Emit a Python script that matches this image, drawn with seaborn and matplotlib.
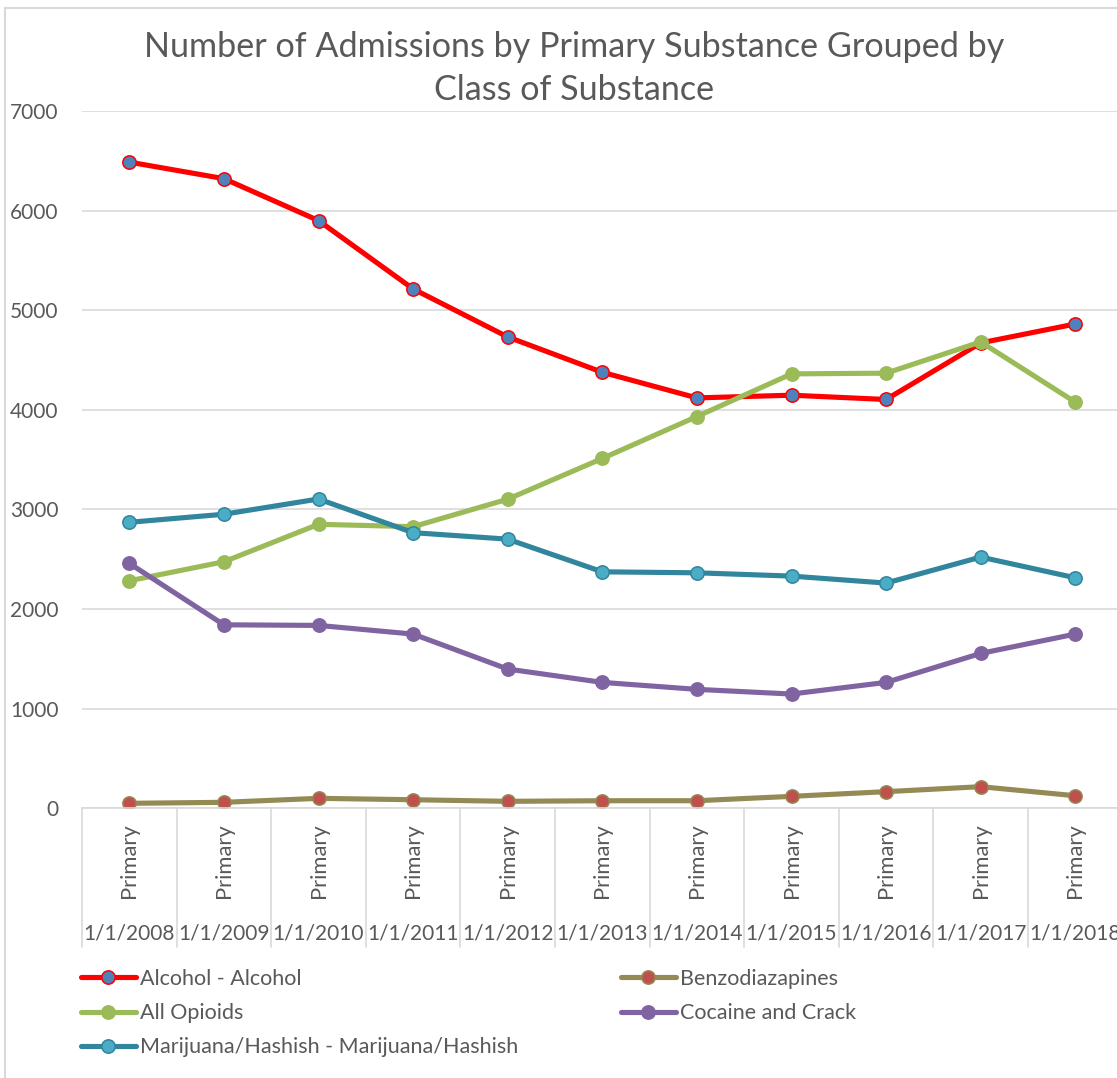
import matplotlib
matplotlib.use("Agg")
import matplotlib.pyplot as plt
from matplotlib.lines import Line2D
import seaborn as sns
import pandas as pd

# Admissions per year for each primary substance class
years = [2008, 2009, 2010, 2011, 2012, 2013, 2014, 2015, 2016, 2017, 2018]
alcohol = [6487, 6321, 5900, 5214, 4732, 4377, 4120, 4147, 4104, 4672, 4862]
benzodiazapines = [50, 60, 100, 86, 70, 76, 76, 120, 167, 217, 126]
all_opioids = [2284, 2475, 2851, 2827, 3103, 3512, 3933, 4361, 4368, 4682, 4077]
cocaine_crack = [2459, 1842, 1836, 1749, 1398, 1264, 1194, 1147, 1264, 1555, 1749]
marijuana = [2871, 2952, 3105, 2767, 2702, 2374, 2364, 2331, 2261, 2522, 2314]

series_names = ["Alcohol - Alcohol", "Benzodiazapines", "All Opioids",
                "Cocaine and Crack", "Marijuana/Hashish - Marijuana/Hashish"]
series_values = [alcohol, benzodiazapines, all_opioids, cocaine_crack, marijuana]
sub_label = "Primary"
date_labels = [f"1/1/{y}" for y in years]
y_ticks = [0, 1000, 2000, 3000, 4000, 5000, 6000, 7000]
title = "Number of Admissions by Primary Substance Grouped by\nClass of Substance"

# line colour, marker face, marker edge
styles = {
    "Alcohol - Alcohol": ("#FF0000", "#4F81BD", "#FF0000"),
    "Benzodiazapines": ("#948A54", "#C0504D", "#948A54"),
    "All Opioids": ("#9BBB59", "#9BBB59", "#9BBB59"),
    "Cocaine and Crack": ("#8064A2", "#8064A2", "#8064A2"),
    "Marijuana/Hashish - Marijuana/Hashish": ("#31859C", "#4BACC6", "#31859C"),
}

df = pd.DataFrame({"year": years})
for name, vals in zip(series_names, series_values):
    df[name] = vals
long = df.melt(id_vars="year", var_name="substance", value_name="admissions")

sns.set_theme(style="white")
plt.rcParams["font.family"] = ["Lato", "DejaVu Sans"]
text_color = "#595959"
grid_color = "#D9D9D9"

W, H = 1117, 1078
fig = plt.figure(figsize=(W / 100, H / 100), dpi=100)
fig.patch.set_facecolor("white")

ax_left, ax_right = 82, 1122.6
ax_top, ax_bottom = 111.0, 808.3
ax = fig.add_axes([ax_left / W, (H - ax_bottom) / H,
                   (ax_right - ax_left) / W, (ax_bottom - ax_top) / H])

for name in series_names:
    lc, fc, ec = styles[name]
    sub = long[long["substance"] == name]
    sns.lineplot(data=sub, x="year", y="admissions", ax=ax, color=lc,
                 linewidth=3.7, marker="o", markersize=9.6,
                 markerfacecolor=fc, markeredgecolor=ec, markeredgewidth=1.1,
                 label=name, legend=False)

ax.set_xlim(years[0] - 0.5, years[-1] + 0.5)
ax.set_ylim(y_ticks[0], y_ticks[-1])
ax.set_yticks(y_ticks)
ax.set_yticklabels([str(v) for v in y_ticks], fontsize=15, color=text_color)
ax.tick_params(axis="y", length=0, pad=17)
ax.yaxis.grid(True, color=grid_color, linewidth=1.2)
ax.set_axisbelow(True)
for s in ["top", "right", "left"]:
    ax.spines[s].set_visible(False)
ax.spines["bottom"].set_color(grid_color)
ax.spines["bottom"].set_linewidth(1.2)
ax.set_xlabel("")
ax.set_ylabel("")

# two-level category axis: rotated sub label above the date
ax.set_xticks(years)
ax.set_xticklabels([sub_label] * len(years), rotation=90, fontsize=15.8,
                   color=text_color)
ax.tick_params(axis="x", length=0, pad=10.5)
span = ax_bottom - ax_top
trans = ax.get_xaxis_transform()
for yr, lab in zip(years, date_labels):
    ax.text(yr, -(933 - ax_bottom) / span, lab, transform=trans, ha="center",
            va="center", fontsize=15, color=text_color)
for k in range(len(years) + 1):
    xb = years[0] - 0.5 + k
    ax.add_line(Line2D([xb, xb], [0, -(947 - ax_bottom) / span], transform=trans,
                       color=grid_color, linewidth=1.2, clip_on=False))

fig.text(574 / W, 1 - 68.5 / H, title, ha="center", va="center", fontsize=24.6,
         color=text_color, fontweight="normal", linespacing=1.45)

# chart frame
fig.add_artist(Line2D([5 / W, 5 / W], [0, 1 - 8 / H], transform=fig.transFigure,
                      color=grid_color, linewidth=1.5))
fig.add_artist(Line2D([5 / W, 1], [1 - 8 / H, 1 - 8 / H], transform=fig.transFigure,
                      color=grid_color, linewidth=1.5))

handles, labels = ax.get_legend_handles_labels()
hmap = dict(zip(labels, handles))
col1 = ["Alcohol - Alcohol", "All Opioids", "Marijuana/Hashish - Marijuana/Hashish"]
col2 = ["Benzodiazapines", "Cocaine and Crack"]
leg_kw = dict(loc="upper left", frameon=False, fontsize=15.5, borderpad=0,
              borderaxespad=0, handlelength=2.55, handletextpad=0.2,
              labelspacing=0.66, numpoints=1, labelcolor=text_color)
leg1 = fig.legend([hmap[n] for n in col1], col1,
                  bbox_to_anchor=(81 / W, 1 - 969 / H), **leg_kw)
leg2 = fig.legend([hmap[n] for n in col2], col2,
                  bbox_to_anchor=(621 / W, 1 - 969 / H), **leg_kw)

fig.savefig("out.png", dpi=100, facecolor="white")
